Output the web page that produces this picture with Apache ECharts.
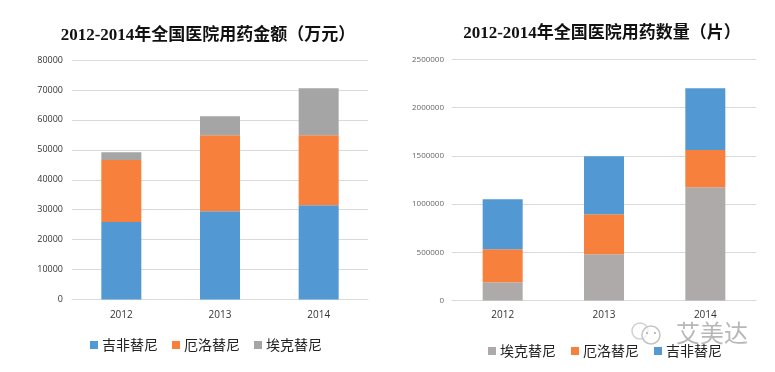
<!DOCTYPE html>
<html><head><meta charset="utf-8">
<style>html,body{margin:0;padding:0;background:#fff}#c{width:775px;height:372px}</style>
<script src="https://cdn.jsdelivr.net/npm/echarts@6/dist/echarts.min.js"></script>
</head><body><div id="c"></div>
<script>
const years = ['2012', '2013', '2014'];
const titleLeft = '2012-2014年全国医院用药金额（万元）';
const titleRight = '2012-2014年全国医院用药数量（片）';
const nameGef = '吉非替尼', nameErl = '厄洛替尼', nameIco = '埃克替尼';
const amountGef = [25900, 29500, 31500];
const amountErl = [20700, 25400, 23400];
const amountIco = [2600, 6300, 15700];
const countIco = [190000, 480000, 1175000];
const countErl = [342000, 415000, 387000];
const countGef = [519000, 602000, 640000];
const BLUE = '#5299D3', ORANGE = '#F6803C', GRAY1 = '#A5A5A5', GRAY2 = '#AEAAAA';
const titleFont = '"Liberation Serif","Noto Sans CJK SC",serif';
const sans = '"Open Sans","Noto Sans",sans-serif';
const cjk = '"Noto Sans CJK SC",sans-serif';

function bar(name, data, color, idx) {
  return {type:'bar', name, data, stack:'s'+idx, xAxisIndex:idx, yAxisIndex:idx, barWidth:40,
    itemStyle:{color}, emphasis:{disabled:true}, animation:false};
}
function legend(items, left, top, gap) {
  return {left, top, padding:0, orient:'horizontal', itemWidth:8, itemHeight:8, itemGap:gap, icon:'rect',
    selectedMode:false,
    textStyle:{fontFamily:cjk, fontSize:14, color:'#222', padding:[0,0,0,-1]},
    data:items.map(([name,color])=>({name, itemStyle:{color}}))};
}
function xAx(idx, margin) {
  return {type:'category', gridIndex:idx, data:years,
    axisLine:{lineStyle:{color:'#D9D9D9', width:1}}, axisTick:{show:false},
    axisLabel:{fontFamily:sans, fontSize:10, color:'#333', margin}};
}
function yAx(idx, max, interval, color, fs, margin) {
  return {type:'value', gridIndex:idx, min:0, max, interval,
    axisLine:{show:false}, axisTick:{show:false},
    splitLine:{lineStyle:{color:'#D9D9D9', width:1}},
    axisLabel:{fontFamily:sans, fontSize:fs, color, margin, formatter:v=>String(v)}};
}
const chart = echarts.init(document.getElementById('c'), null, {renderer:'canvas'});
chart.setOption({
  animation:false, backgroundColor:'#fff',
  title:[
    {text:titleLeft, left:208, top:27, padding:0, textAlign:'center',
      textStyle:{fontFamily:titleFont, fontWeight:'bold', fontSize:17, color:'#111'}},
    {text:titleRight, left:602, top:25, padding:0, textAlign:'center',
      textStyle:{fontFamily:titleFont, fontWeight:'bold', fontSize:17, color:'#111'}}
  ],
  grid:[
    {left:72, right:407, top:60, height:239.5},
    {left:452, right:19, top:59.5, height:241}
  ],
  xAxis:[xAx(0,11), xAx(1,10)],
  yAxis:[yAx(0,80000,10000,'#333',9,9), yAx(1,2500000,500000,'#666',8,8)],
  legend:[
    legend([[nameGef,BLUE],[nameErl,ORANGE],[nameIco,GRAY1]], 90, 338, 14),
    legend([[nameIco,GRAY2],[nameErl,ORANGE],[nameGef,BLUE]], 488, 344, 15)
  ],
  series:[
    bar(nameGef, amountGef, BLUE, 0),
    bar(nameErl, amountErl, ORANGE, 0),
    bar(nameIco, amountIco, GRAY1, 0),
    bar(nameIco, countIco, GRAY2, 1),
    bar(nameErl, countErl, ORANGE, 1),
    bar(nameGef, countGef, BLUE, 1)
  ],
  graphic:[
    {type:'text', x:676, y:321, silent:true, z:50,
      style:{text:'艾美达', fill:'rgba(165,165,165,0.8)', font:'24px "Noto Sans CJK SC"'}},
    {type:'circle', shape:{cx:640, cy:331, r:8}, z:50, silent:true, style:{fill:'rgba(255,255,255,0.6)', stroke:'#D0D0D0', lineWidth:1.5}},
    {type:'circle', shape:{cx:651, cy:335, r:9}, z:50, silent:true, style:{fill:'rgba(255,255,255,0.7)', stroke:'#C4C4C4', lineWidth:1.5}},
    {type:'circle', shape:{cx:647, cy:333, r:1}, z:51, silent:true, style:{fill:'#AAA'}},
    {type:'circle', shape:{cx:655, cy:333, r:1}, z:51, silent:true, style:{fill:'#AAA'}}
  ]
});
</script></body></html>
